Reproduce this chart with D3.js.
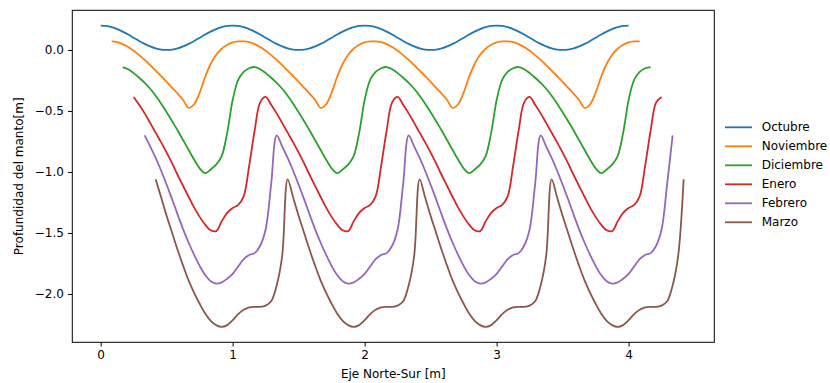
<!DOCTYPE html>
<html>
<head>
<meta charset="utf-8">
<script src="https://cdn.jsdelivr.net/npm/d3@7"></script>
<style>
  body { margin: 0; background: #fff; }
  text { font-family: "DejaVu Sans", sans-serif; }
</style>
</head>
<body>
<svg id="chart" width="830" height="383"></svg>
<script>
// series names and colours (matplotlib tab10)
const months = ['Octubre', 'Noviembre', 'Diciembre', 'Enero', 'Febrero', 'Marzo'];
const colors = ['#1f77b4', '#ff7f0e', '#2ca02c', '#d62728', '#9467bd', '#8c564b'];

// each series is sampled every 1/24 m, starting at its own x
const xStep = 1 / 24;
const xStart = [0, 0.0833, 0.1667, 0.25, 0.3333, 0.4167];

const octubre = [
  0.200, 0.197, 0.187, 0.171, 0.150, 0.126, 0.100, 0.074, 0.050, 0.029, 0.013, 0.003, 0.000, 0.003, 0.013, 0.029, 0.050, 0.074, 0.100, 0.126, 0.150, 0.171, 0.187, 0.197,
  0.200, 0.197, 0.187, 0.171, 0.150, 0.126, 0.100, 0.074, 0.050, 0.029, 0.013, 0.003, 0.000, 0.003, 0.013, 0.029, 0.050, 0.074, 0.100, 0.126, 0.150, 0.171, 0.187, 0.197,
  0.200, 0.197, 0.187, 0.171, 0.150, 0.126, 0.100, 0.074, 0.050, 0.029, 0.013, 0.003, 0.000, 0.003, 0.013, 0.029, 0.050, 0.074, 0.100, 0.126, 0.150, 0.171, 0.187, 0.197,
  0.200, 0.197, 0.187, 0.171, 0.150, 0.126, 0.100, 0.074, 0.050, 0.029, 0.013, 0.003, 0.000, 0.003, 0.013, 0.029, 0.050, 0.074, 0.100, 0.126, 0.150, 0.171, 0.187, 0.197,
  0.200
];
const noviembre = [
  0.070, 0.064, 0.048, 0.024, -0.006, -0.042, -0.082, -0.125, -0.170, -0.215, -0.262, -0.310, -0.358, -0.410, -0.475, -0.445, -0.350, -0.220, -0.115, -0.040, 0.010, 0.042, 0.062, 0.070,
  0.070, 0.064, 0.048, 0.024, -0.006, -0.042, -0.082, -0.125, -0.170, -0.215, -0.262, -0.310, -0.358, -0.410, -0.475, -0.445, -0.350, -0.220, -0.115, -0.040, 0.010, 0.042, 0.062, 0.070,
  0.070, 0.064, 0.048, 0.024, -0.006, -0.042, -0.082, -0.125, -0.170, -0.215, -0.262, -0.310, -0.358, -0.410, -0.475, -0.445, -0.350, -0.220, -0.115, -0.040, 0.010, 0.042, 0.062, 0.070,
  0.070, 0.064, 0.048, 0.024, -0.006, -0.042, -0.082, -0.125, -0.170, -0.215, -0.262, -0.310, -0.358, -0.410, -0.475, -0.445, -0.350, -0.220, -0.115, -0.040, 0.010, 0.042, 0.062, 0.070,
  0.070
];
const diciembre = [
  -0.140, -0.158, -0.190, -0.228, -0.270, -0.318, -0.375, -0.440, -0.510, -0.585, -0.660, -0.740, -0.820, -0.900, -0.970, -1.010, -0.980, -0.940, -0.870, -0.680, -0.410, -0.245, -0.180, -0.150,
  -0.140, -0.158, -0.190, -0.228, -0.270, -0.318, -0.375, -0.440, -0.510, -0.585, -0.660, -0.740, -0.820, -0.900, -0.970, -1.010, -0.980, -0.940, -0.870, -0.680, -0.410, -0.245, -0.180, -0.150,
  -0.140, -0.158, -0.190, -0.228, -0.270, -0.318, -0.375, -0.440, -0.510, -0.585, -0.660, -0.740, -0.820, -0.900, -0.970, -1.010, -0.980, -0.940, -0.870, -0.680, -0.410, -0.245, -0.180, -0.150,
  -0.140, -0.158, -0.190, -0.228, -0.270, -0.318, -0.375, -0.440, -0.510, -0.585, -0.660, -0.740, -0.820, -0.900, -0.970, -1.010, -0.980, -0.940, -0.870, -0.680, -0.410, -0.245, -0.180, -0.150,
  -0.140
];
const enero = [
  -0.385, -0.450, -0.520, -0.598, -0.678, -0.758, -0.842, -0.930, -1.025, -1.115, -1.205, -1.292, -1.368, -1.432, -1.478, -1.485, -1.405, -1.335, -1.295, -1.270, -1.200, -0.950, -0.660, -0.430,
  -0.385, -0.450, -0.520, -0.598, -0.678, -0.758, -0.842, -0.930, -1.025, -1.115, -1.205, -1.292, -1.368, -1.432, -1.478, -1.485, -1.405, -1.335, -1.295, -1.270, -1.200, -0.950, -0.660, -0.430,
  -0.385, -0.450, -0.520, -0.598, -0.678, -0.758, -0.842, -0.930, -1.025, -1.115, -1.205, -1.292, -1.368, -1.432, -1.478, -1.485, -1.405, -1.335, -1.295, -1.270, -1.200, -0.950, -0.660, -0.430,
  -0.385, -0.450, -0.520, -0.598, -0.678, -0.758, -0.842, -0.930, -1.025, -1.115, -1.205, -1.292, -1.368, -1.432, -1.478, -1.485, -1.405, -1.335, -1.295, -1.270, -1.200, -0.950, -0.660, -0.430,
  -0.385
];
const febrero = [
  -0.700, -0.790, -0.885, -0.990, -1.105, -1.225, -1.350, -1.470, -1.580, -1.680, -1.770, -1.845, -1.895, -1.915, -1.905, -1.875, -1.835, -1.775, -1.715, -1.680, -1.665, -1.605, -1.470, -1.100,
  -0.700, -0.790, -0.885, -0.990, -1.105, -1.225, -1.350, -1.470, -1.580, -1.680, -1.770, -1.845, -1.895, -1.915, -1.905, -1.875, -1.835, -1.775, -1.715, -1.680, -1.665, -1.605, -1.470, -1.100,
  -0.700, -0.790, -0.885, -0.990, -1.105, -1.225, -1.350, -1.470, -1.580, -1.680, -1.770, -1.845, -1.895, -1.915, -1.905, -1.875, -1.835, -1.775, -1.715, -1.680, -1.665, -1.605, -1.470, -1.100,
  -0.700, -0.790, -0.885, -0.990, -1.105, -1.225, -1.350, -1.470, -1.580, -1.680, -1.770, -1.845, -1.895, -1.915, -1.905, -1.875, -1.835, -1.775, -1.715, -1.680, -1.665, -1.605, -1.470, -1.100,
  -0.700
];
const marzo = [
  -1.060, -1.210, -1.360, -1.500, -1.640, -1.770, -1.890, -1.990, -2.080, -2.160, -2.220, -2.255, -2.270, -2.255, -2.215, -2.165, -2.130, -2.110, -2.105, -2.105, -2.095, -2.060, -1.930, -1.690,
  -1.060, -1.210, -1.360, -1.500, -1.640, -1.770, -1.890, -1.990, -2.080, -2.160, -2.220, -2.255, -2.270, -2.255, -2.215, -2.165, -2.130, -2.110, -2.105, -2.105, -2.095, -2.060, -1.930, -1.690,
  -1.060, -1.210, -1.360, -1.500, -1.640, -1.770, -1.890, -1.990, -2.080, -2.160, -2.220, -2.255, -2.270, -2.255, -2.215, -2.165, -2.130, -2.110, -2.105, -2.105, -2.095, -2.060, -1.930, -1.690,
  -1.060, -1.210, -1.360, -1.500, -1.640, -1.770, -1.890, -1.990, -2.080, -2.160, -2.220, -2.255, -2.270, -2.255, -2.215, -2.165, -2.130, -2.110, -2.105, -2.105, -2.095, -2.060, -1.930, -1.690,
  -1.060
];
const seriesValues = [octubre, noviembre, diciembre, enero, febrero, marzo];

const xTicks = [0, 1, 2, 3, 4];
const yTicks = [0, -0.5, -1, -1.5, -2];

// layout
const svg = d3.select('#chart');
const box = { left: 72.3, right: 714.3, top: 10.3, bottom: 342.3 };
const fontSize = 12;

const x = d3.scaleLinear().domain([-0.215, 4.649]).range([box.left, box.right]);
const y = d3.scaleLinear().domain([-2.396, 0.325]).range([box.bottom, box.top]);

const line = d3.line()
  .x(d => x(d.x))
  .y(d => y(d.y))
  .curve(d3.curveCatmullRom.alpha(0.5));

const plot = svg.append('g');
seriesValues.forEach((vals, i) => {
  const pts = vals.map((v, j) => ({ x: xStart[i] + j * xStep, y: v }));
  plot.append('path')
    .datum(pts)
    .attr('fill', 'none')
    .attr('stroke', colors[i])
    .attr('stroke-width', 1.8)
    .attr('stroke-linejoin', 'round')
    .attr('d', line);
});

// frame
svg.append('rect')
  .attr('x', box.left).attr('y', box.top)
  .attr('width', box.right - box.left).attr('height', box.bottom - box.top)
  .attr('fill', 'none').attr('stroke', '#000').attr('stroke-width', 1);

const xAxis = svg.append('g')
  .attr('transform', `translate(0,${box.bottom})`)
  .call(d3.axisBottom(x).tickValues(xTicks).tickFormat(d3.format('d')).tickSize(4.2).tickPadding(4.2));
const yAxis = svg.append('g')
  .attr('transform', `translate(${box.left},0)`)
  .call(d3.axisLeft(y).tickValues(yTicks).tickFormat(d3.format('.1f')).tickSize(4.2).tickPadding(4.2));

[xAxis, yAxis].forEach(a => {
  a.select('.domain').remove();
  a.attr('font-family', '"DejaVu Sans", sans-serif').attr('font-size', fontSize).attr('color', '#000');
  a.selectAll('line').attr('stroke-width', 1);
});

svg.append('text')
  .attr('x', (box.left + box.right) / 2).attr('y', 373.5)
  .attr('text-anchor', 'middle').attr('dominant-baseline', 'central')
  .attr('font-size', fontSize)
  .text('Eje Norte-Sur [m]');

svg.append('text')
  .attr('transform', `translate(19,${(box.top + box.bottom) / 2}) rotate(-90)`)
  .attr('text-anchor', 'middle').attr('dominant-baseline', 'central')
  .attr('font-size', fontSize)
  .text('Profundidad del manto[m]');

// legend, outside the axes on the right
const legend = svg.append('g').attr('transform', 'translate(725,127.3)');
months.forEach((m, i) => {
  const row = legend.append('g').attr('transform', `translate(0,${i * 19})`);
  row.append('line')
    .attr('x1', 0).attr('x2', 27).attr('y1', 0).attr('y2', 0)
    .attr('stroke', colors[i]).attr('stroke-width', 1.8);
  row.append('text')
    .attr('x', 36.7).attr('y', 0)
    .attr('dominant-baseline', 'central')
    .attr('font-size', fontSize)
    .text(m);
});
</script>
</body>
</html>
